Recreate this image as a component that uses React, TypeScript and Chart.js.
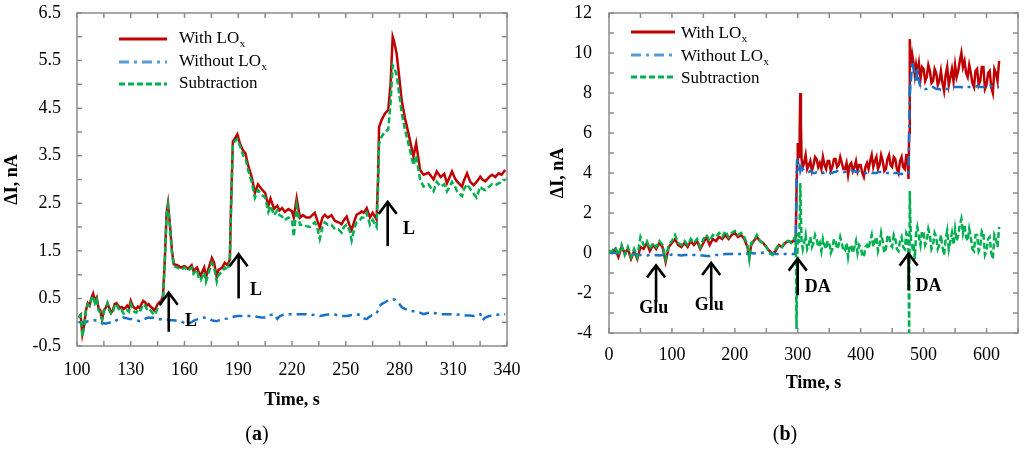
import React, { useEffect, useRef } from "react";
import { Chart, registerables } from "chart.js";

Chart.register(...registerables);

const FONT = "'Liberation Serif', 'Times New Roman', serif";

// ---------------- Panel (a) ----------------
const timeA = [
  101, 102, 103, 104, 105, 106, 107, 108, 109, 110,
  111, 112, 113, 114, 115, 116, 117, 118, 119, 120,
  121, 122, 123, 124, 125, 126, 127, 128, 129, 130,
  131, 132, 133, 134, 135, 136, 137, 138, 139, 140,
  141, 142, 143, 144, 145, 146, 147, 148, 149, 150,
  150.8, 152, 153, 154, 156, 158, 160, 162, 164, 165,
  167, 168, 169, 171, 172, 174, 175.3, 176.5, 178, 179,
  181, 182.5, 184, 185.3, 186, 187, 188, 189.5, 191, 192.8,
  194, 195.5, 197.5, 199.3, 201, 203, 205, 206.8, 208, 210,
  211.8, 213, 214.5, 216, 218, 220, 221, 222.6, 224.4, 226,
  228, 229.9, 232.7, 234, 235.5, 237, 238.3, 240, 242, 244,
  246, 247.7, 249, 250.5, 252, 253.3, 255, 256.1, 258, 258.9,
  260, 261.7, 263.5, 265, 267.2, 268, 268.6, 270, 271.9, 273.7,
  275, 276.2, 277, 278.4, 280, 281.2, 283, 285, 287.8, 289.3,
  291.5, 293.4, 296.2, 298, 299, 300.8, 303, 305, 306.5, 308,
  309.3, 311, 312.1, 314.9, 316, 317.7, 319.5, 321.4, 323, 325.1,
  326.3, 327.9, 330, 331.6, 333.5, 335.3, 337, 339,
];
const withA = [
  0.1, 0.15, -0.25, -0.05, 0.25, 0.4, 0.35, 0.5, 0.6, 0.45,
  0.52, 0.3, 0.25, 0.05, 0.25, 0.3, 0.4, 0.3, 0.2, 0.25,
  0.38, 0.4, 0.35, 0.3, 0.32, 0.28, 0.3, 0.35, 0.3, 0.45,
  0.35, 0.3, 0.28, 0.33, 0.3, 0.38, 0.45, 0.42, 0.35, 0.38,
  0.33, 0.3, 0.25, 0.3, 0.38, 0.42, 0.45, 0.55, 1.3, 2.3,
  2.5, 2.0, 1.5, 1.22, 1.2, 1.15, 1.18, 1.12, 1.2, 1.08,
  1.15, 1.05, 0.98, 1.15, 0.95, 1.2, 1.35, 1.25, 0.95, 1.1,
  1.15, 1.25, 1.2, 1.32, 2.5, 3.8, 3.85, 3.95, 3.75, 3.6,
  3.55, 3.3, 3.05, 2.72, 2.9, 2.8, 2.72, 2.45, 2.6, 2.38,
  2.45, 2.35, 2.4, 2.32, 2.38, 2.33, 2.2, 2.6, 2.2, 2.25,
  2.2, 2.2, 2.3, 2.15, 1.99, 2.2, 2.26, 2.2, 2.25, 2.13,
  2.1, 2.06, 2.15, 2.22, 2.05, 1.94, 2.15, 2.26, 2.3, 2.33,
  2.3, 2.4, 2.2, 2.3, 2.16, 3.0, 4.1, 4.25, 4.39, 4.46,
  5.0, 6.0, 5.9, 5.65, 5.1, 4.67, 4.3, 3.97, 3.48, 3.76,
  3.2, 3.1, 3.14, 3.05, 3.0, 3.17, 3.05, 3.12, 2.92, 3.05,
  3.17, 3.02, 2.96, 2.85, 2.98, 3.13, 2.95, 2.88, 2.95, 3.06,
  3.0, 2.96, 3.05, 3.1, 3.05, 3.13, 3.1, 3.2,
];
const withoutA = [
  0.0, 0.0, 0.0, 0.0, 0.0, 0.02, 0.02, 0.03, 0.04, 0.04,
  0.03, 0.02, 0.0, -0.02, -0.02, -0.03, -0.02, -0.01, 0.0, 0.0,
  0.02, 0.04, 0.06, 0.07, 0.08, 0.1, 0.09, 0.08, 0.07, 0.07,
  0.06, 0.05, 0.04, 0.03, 0.02, 0.03, 0.05, 0.07, 0.09, 0.1,
  0.09, 0.1, 0.09, 0.08, 0.07, 0.06, 0.06, 0.05, 0.05, 0.05,
  0.05, 0.04, 0.04, 0.04, 0.03, 0.02, -0.02, -0.03, 0.0, 0.03,
  0.06, 0.07, 0.08, 0.1, 0.09, 0.07, 0.04, 0.03, 0.02, 0.04,
  0.06, 0.07, 0.08, 0.09, 0.1, 0.11, 0.12, 0.13, 0.13, 0.13,
  0.13, 0.13, 0.13, 0.12, 0.11, 0.1, 0.1, 0.12, 0.15, 0.17,
  0.07, 0.12, 0.15, 0.16, 0.17, 0.17, 0.17, 0.17, 0.17, 0.17,
  0.17, 0.16, 0.15, 0.14, 0.13, 0.14, 0.15, 0.16, 0.17, 0.16,
  0.14, 0.13, 0.13, 0.13, 0.14, 0.15, 0.16, 0.17, 0.15, 0.12,
  0.08, 0.07, 0.12, 0.16, 0.18, 0.25, 0.33, 0.38, 0.42, 0.46,
  0.47, 0.47, 0.48, 0.45, 0.38, 0.32, 0.28, 0.25, 0.23, 0.22,
  0.2, 0.17, 0.2, 0.21, 0.2, 0.18, 0.17, 0.17, 0.17, 0.17,
  0.17, 0.17, 0.16, 0.15, 0.15, 0.14, 0.14, 0.13, 0.15, 0.17,
  0.04, 0.1, 0.13, 0.14, 0.15, 0.16, 0.17, 0.17,
];
const subA = [
  0.1, 0.15, -0.3, -0.1, 0.25, 0.38, 0.35, 0.48, 0.55, 0.4,
  0.48, 0.25, 0.2, 0.05, 0.22, 0.3, 0.4, 0.25, 0.18, 0.2,
  0.35, 0.38, 0.3, 0.22, 0.25, 0.18, 0.2, 0.25, 0.22, 0.38,
  0.28, 0.22, 0.2, 0.25, 0.22, 0.3, 0.38, 0.35, 0.28, 0.3,
  0.25, 0.2, 0.15, 0.2, 0.3, 0.35, 0.4, 0.5, 1.25, 2.25,
  2.45, 1.95, 1.45, 1.18, 1.15, 1.1, 1.15, 1.08, 1.15, 1.02,
  1.1, 0.92, 0.88, 1.05, 0.85, 1.1, 1.25, 1.15, 0.85, 1.0,
  1.05, 1.15, 1.1, 1.25, 2.4, 3.75, 3.8, 3.85, 3.7, 3.5,
  3.45, 3.2, 2.95, 2.62, 2.78, 2.68, 2.62, 2.32, 2.45, 2.25,
  2.35, 2.25, 2.22, 2.15, 2.2, 2.15, 1.8, 2.45, 2.05, 2.05,
  2.02, 2.0, 2.1, 2.0, 1.75, 2.0, 2.1, 2.05, 2.05, 1.95,
  1.95, 1.88, 2.0, 2.05, 1.95, 1.72, 2.0, 2.1, 2.15, 2.2,
  2.2, 2.3, 2.05, 2.15, 2.0, 2.8, 3.75, 3.9, 4.0, 4.05,
  4.6, 5.4, 5.35, 5.2, 4.75, 4.4, 4.05, 3.75, 3.3, 3.5,
  3.0, 2.85, 2.9, 2.8, 2.75, 2.95, 2.85, 2.9, 2.75, 2.85,
  2.95, 2.85, 2.75, 2.65, 2.8, 2.9, 2.8, 2.7, 2.62, 2.85,
  2.8, 2.78, 2.85, 2.9, 2.88, 2.92, 2.95, 3.0,
];
const xLabelsA = [100, 130, 160, 190, 220, 250, 280, 310, 340];
const yLabelsA = [-0.5, 0.5, 1.5, 2.5, 3.5, 4.5, 5.5, 6.5];
const arrowTimeA = [151.2, 190.2, 273.4];
const arrowTipA = [0.62, 1.43, 2.53];
const arrowTailA = [-0.2, 0.5, 1.6];
const arrowTextA = ["L", "L", "L"];
const arrowTextTA = [160.3, 196.6, 282];
const arrowTextVA = [0.01, 0.68, 1.95];
const arrowAlignA = ["left", "left", "left"];

// ---------------- Panel (b) ----------------
const timeB = [
  0, 5, 10, 15, 20, 25, 30, 35, 40, 45,
  50, 55, 60, 65, 70, 75, 80, 85, 90, 95,
  100, 105, 110, 115, 120, 125, 130, 135, 140, 145,
  150, 155, 160, 165, 170, 175, 180, 185, 190, 195,
  200, 205, 210, 215, 220, 223, 226, 230, 235, 240,
  245, 250, 255, 260, 265, 270, 275, 280, 285, 290,
  294, 296, 297, 298, 299, 300, 301, 302, 303, 304,
  305, 306, 308,
  310, 312.5, 315, 317.5, 320, 322.5, 325, 327.5, 330, 332.5,
  335, 337.5, 340, 342.5, 345, 347.5, 350, 352.5, 355, 357.5,
  360, 362.5, 365, 367.5, 370, 372.5, 375, 377.5, 380, 382.5,
  385, 387.5, 390, 392.5, 395, 397.5, 400, 402.5, 405, 407.5,
  410, 412.5, 415, 417.5, 420, 422.5, 425, 427.5, 430, 432.5,
  435, 437.5, 440, 442.5, 445, 447.5, 450, 452.5, 455, 457.5,
  460, 462.5, 465, 467.5, 470, 472.5, 474, 476, 477, 478,
  479, 480, 482, 484, 486, 488, 490, 492.5, 495, 497.5,
  500, 502.5, 505, 507.5, 510, 512.5, 515, 517.5, 520, 522.5,
  525, 527.5, 530, 532.5, 535, 537.5, 540, 542.5, 545, 547.5,
  550, 552.5, 555, 557.5, 560, 562.5, 565, 567.5, 570, 572.5,
  575, 577.5, 580, 582.5, 585, 587.5, 590, 592.5, 595, 597.5,
  600, 602.5, 605, 607.5, 610, 612.5, 615, 617.5, 620,
];
const withB = [
  0.1, 0.0, 0.2, -0.2, 0.3, 0.0, 0.2, -0.3, 0.1, -0.3,
  0.3, 0.2, 0.5, 0.1, 0.4, 0.2, 0.5, 0.3, -0.45, 0.3,
  0.5, 0.7, 0.4, 0.3, 0.5, 0.3, 0.6, 0.4, 0.6, 0.2,
  0.5, 0.8, 0.4, 0.7, 0.6, 0.8, 0.7, 0.9, 0.7, 0.9,
  1.0, 0.8, 0.9, 0.7, 0.3, -0.2, 0.4, 0.6, 0.8, 0.6,
  0.5, 0.3, 0.1, -0.05, 0.1, 0.4, 0.3, 0.5, 0.6, 0.55,
  0.6, 0.8, 1.2, 3.0, 4.5, 5.5, 5.0, 4.8, 6.0, 8.0,
  6.5, 4.7, 4.3,
  4.5, 4.9, 4.2, 4.4, 4.6, 4.1, 4.4, 4.8, 4.7, 4.3,
  4.5, 4.2, 4.8, 4.4, 4.2, 4.6, 4.6, 4.1, 4.3, 4.7,
  4.7, 4.3, 4.4, 4.8, 4.5, 4.2, 4.2, 4.5, 3.9, 4.4,
  4.5, 4.1, 4.3, 4.6, 4.1, 4.4, 4.4, 4.0, 3.8, 4.3,
  4.5, 4.2, 4.6, 4.9, 4.3, 4.6, 4.8, 4.2, 4.4, 4.9,
  4.6, 4.1, 4.2, 4.7, 4.9, 4.4, 4.3, 4.8, 4.7, 4.2,
  4.0, 4.6, 4.8, 4.3, 4.2, 4.9, 4.9, 3.7, 6.0, 10.7,
  9.8, 9.3, 9.9, 9.5, 8.9, 9.4, 9.0, 9.5, 8.7, 9.3,
  9.2, 8.6, 8.8, 9.4, 9.1, 8.5, 8.6, 9.2, 9.0, 8.4,
  8.6, 9.1, 8.5, 8.1, 8.9, 9.3, 8.4, 8.8, 9.2, 8.6,
  9.4, 8.8, 9.1, 9.6, 10.0, 9.3, 9.6, 9.0, 8.8, 9.4,
  9.0, 8.5, 8.3, 9.1, 9.2, 8.4, 8.6, 9.3, 9.3, 8.2,
  8.4, 9.0, 9.1, 8.3, 8.0, 9.2, 9.0, 8.6, 9.6,
];
const withoutB = [
  0.0, 0.02, 0.0, -0.02, 0.0, -0.03, -0.02, -0.05, -0.05, -0.08,
  -0.1, -0.1, -0.12, -0.1, -0.12, -0.1, -0.12, -0.1, -0.1, -0.1,
  -0.08, -0.1, -0.1, -0.12, -0.1, -0.1, -0.08, -0.1, -0.1, -0.12,
  -0.12, -0.15, -0.15, -0.12, -0.1, -0.1, -0.08, -0.05, -0.05, -0.05,
  -0.03, -0.05, -0.05, -0.05, -0.03, 0.0, 0.0, -0.02, 0.0, 0.0,
  0.02, 0.0, -0.02, 0.0, -0.05, -0.05, -0.05, -0.05, -0.05, -0.05,
  -0.05, -0.05, 1.0, 3.8, 4.7, 4.5, 4.0, 4.2, 4.3, 4.1,
  4.2, 4.05, 4.2,
  4.1, 4.1, 4.05, 4.05, 4.1, 4.05, 4.0, 4.0, 4.05, 4.05,
  4.0, 4.0, 4.0, 4.05, 4.05, 4.0, 4.0, 4.0, 4.0, 4.05,
  4.05, 4.1, 4.1, 4.1, 4.1, 4.05, 4.05, 4.1, 4.1, 4.15,
  4.15, 4.1, 4.1, 4.05, 4.05, 4.1, 4.1, 4.05, 4.05, 4.0,
  4.0, 4.05, 4.05, 4.0, 4.0, 4.0, 4.0, 4.05, 4.05, 4.05,
  4.05, 4.0, 4.0, 4.0, 4.0, 4.05, 4.05, 4.0, 4.0, 4.0,
  4.0, 3.95, 3.95, 4.0, 4.0, 4.0, 4.0, 4.0, 6.0, 8.5,
  8.3, 8.7, 9.6, 9.2, 8.8, 8.5, 9.3, 8.6, 8.3, 8.25,
  8.25, 8.2, 8.2, 8.25, 8.25, 8.3, 8.3, 8.25, 8.2, 8.2,
  8.2, 8.15, 8.15, 8.2, 8.2, 8.2, 8.2, 8.25, 8.25, 8.3,
  8.3, 8.3, 8.3, 8.3, 8.3, 8.25, 8.25, 8.3, 8.3, 8.3,
  8.3, 8.3, 8.3, 8.3, 8.35, 8.35, 8.3, 8.3, 8.3, 8.3,
  8.3, 8.3, 8.35, 8.35, 8.3, 8.3, 8.3, 8.3, 8.3,
];
const subB = [
  0.05, 0.1, 0.3, -0.1, 0.4, -0.1, 0.3, -0.2, 0.2, -0.2,
  0.8, 0.4, 0.6, 0.2, 0.5, 0.3, 0.6, 0.4, -0.3, 0.4,
  0.6, 0.9, 0.5, 0.4, 0.6, 0.4, 0.7, 0.5, 0.7, 0.3,
  0.7, 0.9, 0.6, 0.9, 0.8, 1.0, 0.8, 1.1, 0.8, 1.0,
  1.1, 0.9, 1.0, 0.8, 0.4, -0.3, 0.5, 0.6, 0.9, 0.6,
  0.5, 0.3, 0.0, -0.1, 0.2, 0.4, 0.3, 0.6, 0.6, 0.5,
  0.7, 0.8, 0.3, -3.8, -1.0, 1.0, 0.8, 0.5, 1.5, 3.5,
  2.0, 0.6, 0.2,
  0.5, 0.9, 0.2, 0.4, 0.8, 0.3, 0.5, 0.9, 0.7, 0.3,
  0.5, 0.1, 0.7, 0.4, 0.2, 0.6, 0.5, 0.0, 0.2, 0.7,
  0.6, 0.2, 0.4, 0.8, 0.5, 0.1, 0.1, 0.5, -0.2, 0.3,
  0.4, 0.0, 0.3, 0.6, 0.0, 0.4, 0.3, -0.1, -0.2, 0.3,
  0.4, 0.2, 0.6, 0.9, 0.3, 0.6, 0.8, 0.1, 0.4, 1.0,
  0.6, 0.0, 0.2, 0.8, 0.9, 0.4, 0.3, 0.9, 0.7, 0.2,
  0.1, 0.6, 0.8, 0.3, 0.2, 1.0, 0.9, -0.3, -4.2, 3.1,
  1.5, 0.6, 0.3, 0.5, -0.3, 1.0, 1.3, 0.8, 0.4, 1.1,
  1.0, 0.4, 0.6, 1.2, 0.9, 0.2, 0.4, 1.0, 0.8, 0.2,
  0.4, 0.9, 0.3, -0.1, 0.7, 1.1, 0.2, 0.6, 1.0, 0.4,
  1.2, 0.6, 0.9, 1.4, 1.7, 1.0, 1.4, 0.8, 0.6, 1.2,
  0.8, 0.2, 0.1, 0.9, 0.9, 0.1, 0.3, 1.1, 1.0, -0.1,
  0.1, 0.7, 0.8, 0.0, -0.3, 0.9, 0.7, 0.3, 1.3,
];
const xLabelsB = [0, 100, 200, 300, 400, 500, 600];
const yLabelsB = [-4, -2, 0, 2, 4, 6, 8, 10, 12];
const arrowTimeB = [74.8, 162.4, 299.9, 476.2];
const arrowTipB = [-0.62, -0.5, -0.28, -0.03];
const arrowTailB = [-2.5, -2.28, -2.11, -1.87];
const arrowTextB = ["Glu", "Glu", "DA", "DA"];
const arrowTextTB = [71, 159.4, 310.9, 487];
const arrowTextVB = [-2.78, -2.62, -1.73, -1.67];
const arrowAlignB = ["center", "center", "left", "left"];

const seriesNames = ["With LO", "Without LO", "Subtraction"];
const seriesSubs = ["x", "x", ""];
const lineColors = ["#C00000", "#1A72C8", "#00B050"];
const legendColors = ["#C00000", "#5B9BD5", "#00B050"];
const dashes = [[], [10, 5, 3, 5], [6, 3]];

const frameTicksPlugin = {
  id: "frameTicks",
  beforeDatasetsDraw(chart: any) {
    const { ctx, chartArea: a, scales } = chart;
    ctx.save();
    ctx.strokeStyle = "#8C8C8C";
    ctx.lineWidth = 1.5;
    ctx.strokeRect(a.left, a.top, a.right - a.left, a.bottom - a.top);
    const L = 5;
    ctx.beginPath();
    scales.x.ticks.forEach((t: any) => {
      const p = scales.x.getPixelForValue(t.value);
      ctx.moveTo(p, a.bottom);
      ctx.lineTo(p, a.bottom - L);
      ctx.moveTo(p, a.top);
      ctx.lineTo(p, a.top + L);
    });
    scales.y.ticks.forEach((t: any) => {
      const p = scales.y.getPixelForValue(t.value);
      ctx.moveTo(a.left, p);
      ctx.lineTo(a.left + L, p);
      ctx.moveTo(a.right, p);
      ctx.lineTo(a.right - L, p);
    });
    ctx.stroke();
    ctx.restore();
  },
};

function makeArrowPlugin(ts: number[], tips: number[], tails: number[], texts: string[], tts: number[], tvs: number[], aligns: string[]) {
  return {
    id: "arrows",
    afterDatasetsDraw(chart: any) {
      const { ctx, scales } = chart;
      const xs = scales.x;
      const ys = scales.y;
      ctx.save();
      ctx.strokeStyle = "#000";
      ctx.fillStyle = "#000";
      ctx.lineWidth = 2.6;
      ts.forEach((t, i) => {
        const px = xs.getPixelForValue(t);
        const pTip = ys.getPixelForValue(tips[i]);
        const pTail = ys.getPixelForValue(tails[i]);
        ctx.beginPath();
        ctx.moveTo(px, pTail);
        ctx.lineTo(px, pTip + 1);
        ctx.stroke();
        ctx.beginPath();
        ctx.moveTo(px - 9, pTip + 12);
        ctx.lineTo(px, pTip);
        ctx.lineTo(px + 9, pTip + 12);
        ctx.stroke();
        ctx.font = `bold 18px ${FONT}`;
        ctx.textAlign = aligns[i] as CanvasTextAlign;
        ctx.textBaseline = "middle";
        ctx.fillText(texts[i], xs.getPixelForValue(tts[i]), ys.getPixelForValue(tvs[i]));
      });
      ctx.restore();
    },
  };
}

function makeLegendPlugin(x0: number, x1: number, tx: number, rows: number[], baseOff: number) {
  return {
    id: "customLegend",
    afterDraw(chart: any) {
      const ctx = chart.ctx;
      ctx.save();
      rows.forEach((ry, i) => {
        ctx.beginPath();
        ctx.strokeStyle = legendColors[i];
        ctx.lineWidth = 3;
        ctx.setLineDash(dashes[i]);
        ctx.moveTo(x0, ry);
        ctx.lineTo(x1, ry);
        ctx.stroke();
        ctx.setLineDash([]);
        ctx.fillStyle = "#000";
        ctx.textAlign = "left";
        ctx.textBaseline = "alphabetic";
        ctx.font = `17px ${FONT}`;
        ctx.fillText(seriesNames[i], tx, ry + baseOff);
        if (seriesSubs[i]) {
          const w = ctx.measureText(seriesNames[i]).width;
          ctx.font = `11px ${FONT}`;
          ctx.fillText(seriesSubs[i], tx + w + 0.5, ry + baseOff + 4);
        }
      });
      ctx.restore();
    },
  };
}

function buildConfig(p: any) {
  const mk = (ys: number[]) => p.times.map((t: number, i: number) => ({ x: t, y: ys[i] }));
  const series = [p.w, p.wo, p.s];
  return {
    type: "line",
    data: {
      datasets: series.map((ys: number[], i: number) => ({
        label: seriesNames[i] + (seriesSubs[i] ? "ₓ" : ""),
        data: mk(ys),
        borderColor: lineColors[i],
        backgroundColor: lineColors[i],
        borderWidth: 2.5,
        borderDash: dashes[i],
        pointRadius: 0,
        tension: 0,
        fill: false,
        order: 3 - i,
      })),
    },
    options: {
      responsive: false,
      animation: false,
      events: [],
      layout: { padding: p.padding },
      plugins: { legend: { display: false }, tooltip: { enabled: false }, title: { display: false } },
      scales: {
        x: {
          type: "linear",
          min: p.xMin,
          max: p.xMax,
          afterFit: (s: any) => {
            s.height = p.xAxisH;
            s.paddingLeft = 0;
            s.paddingRight = 0;
            s.paddingTop = 0;
            s.paddingBottom = 0;
          },
          grid: { display: false, drawTicks: false },
          border: { display: false },
          ticks: {
            stepSize: p.xStep,
            autoSkip: false,
            maxRotation: 0,
            minRotation: 0,
            padding: p.xTickPad,
            color: "#000",
            font: { family: FONT, size: 18 },
            callback: (v: number) => (p.xLabels.some((l: number) => Math.abs(l - v) < 1e-6) ? String(v) : ""),
          },
          title: {
            display: true,
            text: "Time, s",
            color: "#000",
            font: { family: FONT, size: 18, weight: "bold" },
            padding: { top: 0, bottom: p.xTitlePad },
          },
        },
        y: {
          type: "linear",
          min: p.yMin,
          max: p.yMax,
          afterFit: (s: any) => {
            s.width = p.yAxisW;
            s.paddingTop = 0;
            s.paddingBottom = 0;
            s.paddingLeft = 0;
            s.paddingRight = 0;
          },
          grid: { display: false, drawTicks: false },
          border: { display: false },
          ticks: {
            stepSize: p.yStep,
            autoSkip: false,
            padding: p.yTickPad,
            color: "#000",
            font: { family: FONT, size: 18 },
            callback: (v: number) =>
              p.yLabels.some((l: number) => Math.abs(l - v) < 1e-6) ? (p.yFixed ? Number(v).toFixed(1) : String(v)) : "",
          },
          title: {
            display: true,
            text: "ΔI, nA",
            color: "#000",
            font: { family: FONT, size: 18, weight: "bold" },
            padding: { top: p.yTitlePad, bottom: 0 },
          },
        },
      },
    },
    plugins: [frameTicksPlugin, p.arrows, p.legend],
  } as any;
}

export default function App() {
  const refA = useRef<HTMLCanvasElement>(null);
  const refB = useRef<HTMLCanvasElement>(null);

  useEffect(() => {
    document.body.style.margin = "0";
    const cfgA = buildConfig({
      times: timeA, w: withA, wo: withoutA, s: subA,
      xMin: 100, xMax: 340, xStep: 15, xLabels: xLabelsA,
      yMin: -0.5, yMax: 6.5, yStep: 0.5, yLabels: yLabelsA, yFixed: true,
      padding: { left: 0, right: 23, top: 13, bottom: 34 },
      xAxisH: 70, yAxisW: 77, xTickPad: 13, yTickPad: 16, xTitlePad: 5, yTitlePad: 2,
      arrows: makeArrowPlugin(arrowTimeA, arrowTipA, arrowTailA, arrowTextA, arrowTextTA, arrowTextVA, arrowAlignA),
      legend: makeLegendPlugin(119, 167, 179, [39, 62, 84], 4),
    });
    const cfgB = buildConfig({
      times: timeB, w: withB, wo: withoutB, s: subB,
      xMin: 0, xMax: 650, xStep: 50, xLabels: xLabelsB,
      yMin: -4, yMax: 12, yStep: 1, yLabels: yLabelsB, yFixed: false,
      padding: { left: 0, right: 6, top: 13, bottom: 47 },
      xAxisH: 70, yAxisW: 97, xTickPad: 11, yTickPad: 17, xTitlePad: 9, yTitlePad: 36,
      arrows: makeArrowPlugin(arrowTimeB, arrowTipB, arrowTailB, arrowTextB, arrowTextTB, arrowTextVB, arrowAlignB),
      legend: makeLegendPlugin(119, 163, 169, [32, 55, 77], 6),
    });
    const a = new Chart(refA.current as HTMLCanvasElement, cfgA);
    const b = new Chart(refB.current as HTMLCanvasElement, cfgB);
    return () => {
      a.destroy();
      b.destroy();
    };
  }, []);

  const cap: React.CSSProperties = {
    position: "absolute",
    top: 420,
    width: 200,
    textAlign: "center",
    fontFamily: FONT,
    fontSize: 20,
    lineHeight: "26px",
    color: "#000",
  };

  return (
    <div style={{ position: "relative", width: 1024, height: 450, background: "#fff", overflow: "hidden" }}>
      <canvas ref={refA} width={530} height={450} style={{ position: "absolute", left: 0, top: 0 }} />
      <canvas ref={refB} width={512} height={450} style={{ position: "absolute", left: 512, top: 0 }} />
      <div style={{ ...cap, left: 157 }}>(<b>a</b>)</div>
      <div style={{ ...cap, left: 685 }}>(<b>b</b>)</div>
    </div>
  );
}
